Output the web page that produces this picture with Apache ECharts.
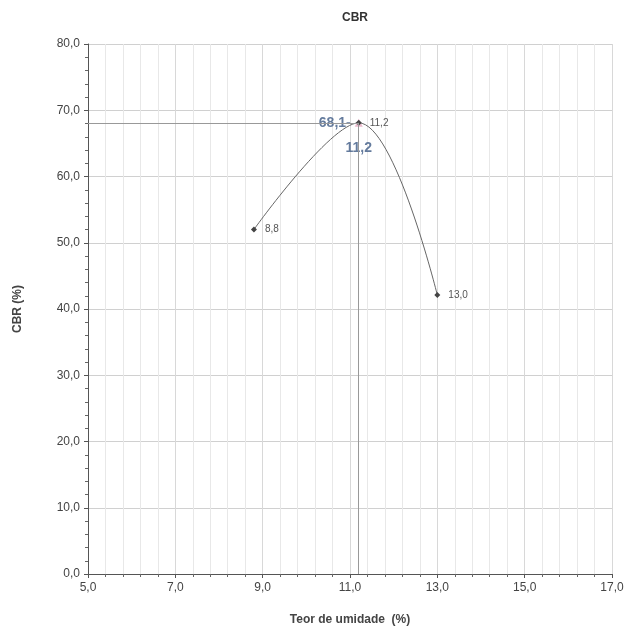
<!DOCTYPE html>
<html><head><meta charset="utf-8">
<script src="https://cdn.jsdelivr.net/npm/echarts@6/dist/echarts.min.js"></script>
<style>html,body{margin:0;padding:0;background:#fff}#c{width:630px;height:631px}</style>
</head><body><div id="c"></div>
<script>
const moisture = [8.8, 11.2, 13.0];
const cbr = [52.0, 68.1, 42.1];
const optMoisture = 11.2;
const maxCbr = 68.1;
const xTicks = [5, 17, 2];
const yTicks = [0, 80, 10];

const fmt = v => v.toFixed(1).replace('.', ',');
const chart = echarts.init(document.getElementById('c'));
const F = '"Liberation Sans", Arial, sans-serif';
chart.setOption({
  animation: false,
  title: { text: 'CBR', left: 350, textAlign: 'center', top: 7,
    textStyle: { fontFamily: F, fontSize: 12, fontWeight: 'bold', color: '#333' } },
  grid: { left: 88, right: 18, top: 44, bottom: 57 },
  xAxis: {
    type: 'value', min: xTicks[0], max: xTicks[1], interval: xTicks[2],
    name: 'Teor de umidade  (%)', nameLocation: 'middle', nameGap: 40,
    nameTextStyle: { fontFamily: F, fontSize: 12, fontWeight: 'bold', color: '#444' },
    axisLine: { lineStyle: { color: '#555', width: 1 } },
    axisTick: { show: true, length: 4, lineStyle: { color: '#555' } },
    minorTick: { show: true, splitNumber: 5, length: 3, lineStyle: { color: '#666' } },
    axisLabel: { fontFamily: F, fontSize: 12, color: '#444', margin: 8, formatter: fmt },
    splitLine: { show: true, lineStyle: { color: '#d8d8d8', width: 1 } },
    minorSplitLine: { show: true, lineStyle: { color: '#e8e8e8', width: 1 } }
  },
  yAxis: {
    type: 'value', min: yTicks[0], max: yTicks[1], interval: yTicks[2],
    name: 'CBR (%)', nameLocation: 'middle', nameGap: 64, nameRotate: 90,
    nameTextStyle: { fontFamily: F, fontSize: 12, fontWeight: 'bold', color: '#444' },
    axisLine: { show: true, lineStyle: { color: '#555', width: 1 } },
    axisTick: { show: true, length: 4, lineStyle: { color: '#555' } },
    minorTick: { show: true, splitNumber: 5, length: 3, lineStyle: { color: '#666' } },
    axisLabel: { fontFamily: F, fontSize: 12, color: '#444', margin: 8, formatter: fmt },
    splitLine: { show: true, lineStyle: { color: '#d0d0d0', width: 1 } },
    minorSplitLine: { show: false }
  },
  series: [
    {
      type: 'line', smooth: 0.35,
      data: moisture.map((x, i) => [x, cbr[i]]),
      symbol: 'diamond', symbolSize: 6,
      itemStyle: { color: '#444' },
      lineStyle: { color: '#666', width: 1 },
      label: { show: true, position: 'right', distance: 8, fontFamily: F, fontSize: 10, color: '#555',
        formatter: p => fmt(p.value[0]) },
      markLine: {
        silent: true, symbol: 'none',
        lineStyle: { color: '#999', type: 'solid', width: 1 },
        label: { show: false },
        data: [
          [{ coord: [xTicks[0], maxCbr] }, { coord: [optMoisture, maxCbr] }],
          [{ coord: [optMoisture, maxCbr] }, { coord: [optMoisture, yTicks[0]] }]
        ]
      }
    },
    {
      type: 'scatter', symbol: 'triangle', symbolSize: 8,
      itemStyle: { color: '#e7a9c0', opacity: 0.8 },
      data: [[optMoisture, maxCbr]],
      label: { show: true, position: 'left', distance: 4, fontFamily: F, fontSize: 14, fontWeight: 'bold', color: '#3d5a85',
        formatter: () => fmt(maxCbr) + '-' }
    },
    {
      type: 'scatter', symbolSize: 0,
      data: [[optMoisture, maxCbr]],
      label: { show: true, position: 'bottom', distance: 18, fontFamily: F, fontSize: 14, fontWeight: 'bold', color: '#3d5a85',
        formatter: () => fmt(optMoisture) }
    }
  ]
});
</script></body></html>
